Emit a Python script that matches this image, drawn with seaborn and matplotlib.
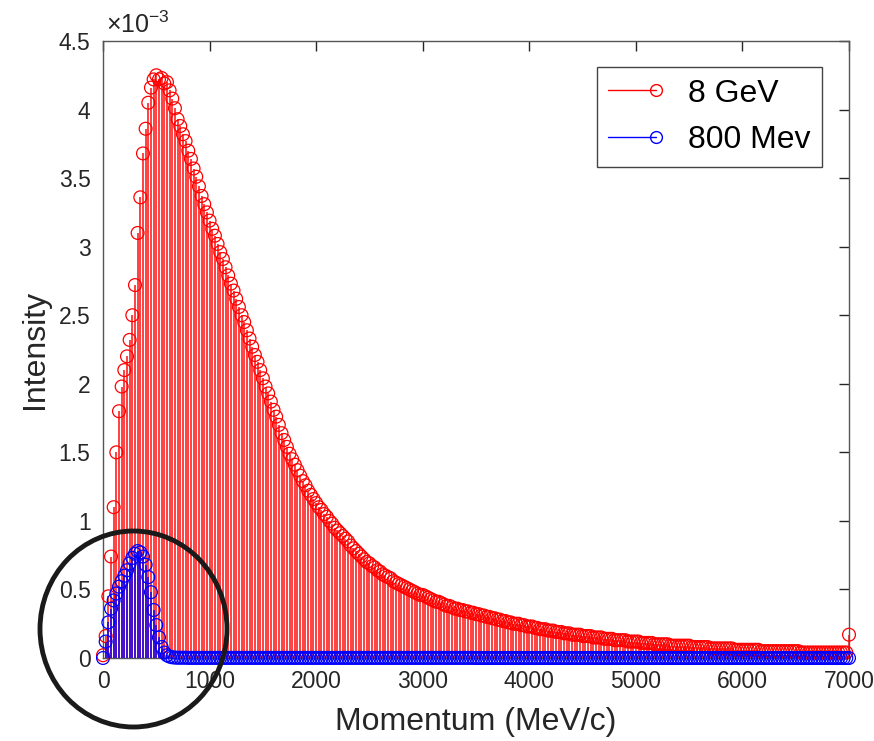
import numpy as np
import pandas as pd
import matplotlib
matplotlib.use("Agg")
import matplotlib.pyplot as plt
import seaborn as sns
from matplotlib.ticker import MultipleLocator, FuncFormatter
from matplotlib.patches import Ellipse
from matplotlib.lines import Line2D
from matplotlib.legend_handler import HandlerBase

# ---------------- data (intensity in units of 1e-3) ----------------
momentum = np.arange(0, 7001, 25)  # MeV/c

intensity_8gev_e3 = [
    0.02, 0.16, 0.45, 0.74, 1.10, 1.50, 1.80, 1.98, 2.10, 2.20, 2.32, 2.50, 2.72, 3.10, 3.36, 3.68, 3.86, 4.05, 4.16, 4.22,
    4.25, 4.22, 4.23, 4.19, 4.20, 4.14, 4.08, 4.01, 3.93, 3.88, 3.82, 3.77, 3.70, 3.64, 3.57, 3.51, 3.44, 3.37, 3.31, 3.25,
    3.19, 3.13, 3.08, 3.02, 2.96, 2.91, 2.85, 2.79, 2.73, 2.68, 2.62, 2.56, 2.50, 2.45, 2.39, 2.33, 2.27, 2.21, 2.16, 2.10,
    2.04, 1.98, 1.93, 1.87, 1.81, 1.76, 1.70, 1.64, 1.59, 1.54, 1.49, 1.45, 1.41, 1.37, 1.33, 1.29, 1.26, 1.22, 1.19, 1.16,
    1.13, 1.10, 1.08, 1.05, 1.03, 1.00, 0.98, 0.95, 0.93, 0.91, 0.89, 0.87, 0.85, 0.82, 0.80, 0.78, 0.76, 0.74, 0.72, 0.70,
    0.69, 0.67, 0.66, 0.64, 0.63, 0.61, 0.60, 0.59, 0.58, 0.56, 0.55, 0.54, 0.53, 0.52, 0.51, 0.50, 0.49, 0.48, 0.47, 0.46,
    0.46, 0.45, 0.44, 0.43, 0.42, 0.41, 0.41, 0.40, 0.39, 0.38, 0.38, 0.37, 0.36, 0.36, 0.35, 0.35, 0.34, 0.34, 0.33, 0.33,
    0.32, 0.32, 0.31, 0.31, 0.30, 0.30, 0.29, 0.29, 0.28, 0.28, 0.27, 0.27, 0.26, 0.26, 0.25, 0.25, 0.25, 0.24, 0.24, 0.23,
    0.23, 0.23, 0.22, 0.22, 0.21, 0.21, 0.21, 0.20, 0.20, 0.20, 0.19, 0.19, 0.19, 0.18, 0.18, 0.18, 0.17, 0.17, 0.17, 0.17,
    0.16, 0.16, 0.16, 0.16, 0.15, 0.15, 0.15, 0.15, 0.14, 0.14, 0.14, 0.14, 0.13, 0.13, 0.13, 0.13, 0.13, 0.12, 0.12, 0.12,
    0.12, 0.12, 0.11, 0.11, 0.11, 0.11, 0.11, 0.10, 0.10, 0.10, 0.10, 0.10, 0.10, 0.09, 0.09, 0.09, 0.09, 0.09, 0.09, 0.09,
    0.09, 0.08, 0.08, 0.08, 0.08, 0.08, 0.08, 0.08, 0.07, 0.07, 0.07, 0.07, 0.07, 0.07, 0.07, 0.07, 0.07, 0.06, 0.06, 0.06,
    0.06, 0.06, 0.06, 0.06, 0.06, 0.06, 0.06, 0.05, 0.05, 0.05, 0.05, 0.05, 0.05, 0.05, 0.05, 0.05, 0.05, 0.05, 0.05, 0.05,
    0.05, 0.05, 0.04, 0.04, 0.04, 0.04, 0.04, 0.04, 0.04, 0.04, 0.04, 0.04, 0.04, 0.04, 0.04, 0.04, 0.04, 0.04, 0.04, 0.04,
    0.17,
]

intensity_800mev_e3 = [
    0.00, 0.12, 0.26, 0.36, 0.42, 0.47, 0.52, 0.56, 0.60, 0.64, 0.69, 0.73, 0.76, 0.78, 0.77, 0.74, 0.68, 0.59, 0.48, 0.35,
    0.24, 0.15, 0.08, 0.04, 0.02, 0.01, 0.005, 0.003, 0.002, 0.002, 0.002, 0.002, 0.001, 0.001, 0.001, 0.001, 0.001, 0.001, 0.001, 0.001,
    0.001, 0.001, 0.001, 0.001, 0.001, 0.001, 0.001, 0.001, 0.001, 0.001, 0.001, 0.001, 0.001, 0.001, 0.001, 0.001, 0.001, 0.001, 0.001, 0.001,
    0.001, 0.001, 0.001, 0.001, 0.001, 0.001, 0.001, 0.001, 0.001, 0.001, 0.001, 0.001, 0.001, 0.001, 0.001, 0.001, 0.001, 0.001, 0.001, 0.001,
    0.001, 0.001, 0.001, 0.001, 0.001, 0.001, 0.001, 0.001, 0.001, 0.001, 0.001, 0.001, 0.001, 0.001, 0.001, 0.001, 0.001, 0.001, 0.001, 0.001,
    0.001, 0.001, 0.001, 0.001, 0.001, 0.001, 0.001, 0.001, 0.001, 0.001, 0.001, 0.001, 0.001, 0.001, 0.001, 0.001, 0.001, 0.001, 0.001, 0.001,
    0.001, 0.001, 0.001, 0.001, 0.001, 0.001, 0.001, 0.001, 0.001, 0.001, 0.001, 0.001, 0.001, 0.001, 0.001, 0.001, 0.001, 0.001, 0.001, 0.001,
    0.000, 0.000, 0.000, 0.000, 0.000, 0.000, 0.000, 0.000, 0.000, 0.000, 0.000, 0.000, 0.000, 0.000, 0.000, 0.000, 0.000, 0.000, 0.000, 0.000,
    0.000, 0.000, 0.000, 0.000, 0.000, 0.000, 0.000, 0.000, 0.000, 0.000, 0.000, 0.000, 0.000, 0.000, 0.000, 0.000, 0.000, 0.000, 0.000, 0.000,
    0.000, 0.000, 0.000, 0.000, 0.000, 0.000, 0.000, 0.000, 0.000, 0.000, 0.000, 0.000, 0.000, 0.000, 0.000, 0.000, 0.000, 0.000, 0.000, 0.000,
    0.000, 0.000, 0.000, 0.000, 0.000, 0.000, 0.000, 0.000, 0.000, 0.000, 0.000, 0.000, 0.000, 0.000, 0.000, 0.000, 0.000, 0.000, 0.000, 0.000,
    0.000, 0.000, 0.000, 0.000, 0.000, 0.000, 0.000, 0.000, 0.000, 0.000, 0.000, 0.000, 0.000, 0.000, 0.000, 0.000, 0.000, 0.000, 0.000, 0.000,
    0.000, 0.000, 0.000, 0.000, 0.000, 0.000, 0.000, 0.000, 0.000, 0.000, 0.000, 0.000, 0.000, 0.000, 0.000, 0.000, 0.000, 0.000, 0.000, 0.000,
    0.000, 0.000, 0.000, 0.000, 0.000, 0.000, 0.000, 0.000, 0.000, 0.000, 0.000, 0.000, 0.000, 0.000, 0.000, 0.000, 0.000, 0.000, 0.000, 0.000,
    0.000,
]

series_labels = ["8 GeV", "800 Mev"]
series_colors = ["#ff0000", "#0000ff"]
x_ticks = [0, 1000, 2000, 3000, 4000, 5000, 6000, 7000]

# ---------------- style ----------------
sns.set_theme(style="white")
plt.rcParams["font.family"] = ["Liberation Sans", "DejaVu Sans"]
plt.rcParams["mathtext.fontset"] = "custom"
plt.rcParams["mathtext.rm"] = "Liberation Sans"
plt.rcParams["mathtext.it"] = "Liberation Sans:italic"
plt.rcParams["mathtext.bf"] = "Liberation Sans:bold"

TXT = "#262626"

df = pd.DataFrame({
    "momentum": np.concatenate([momentum, momentum]),
    "intensity": np.concatenate([np.array(intensity_8gev_e3), np.array(intensity_800mev_e3)]) * 1e-3,
    "series": [series_labels[0]] * len(momentum) + [series_labels[1]] * len(momentum),
})

fig = plt.figure(figsize=(8.74, 7.41), dpi=100)
ax = fig.add_axes([103 / 874, 1 - 658 / 741, 746 / 874, 617 / 741])

z = 2
for lab, col in zip(series_labels, series_colors):
    sub = df[df["series"] == lab]
    ax.vlines(sub["momentum"], 0, sub["intensity"], colors=col, linewidth=1.3,
              alpha=0.8, zorder=z)
    sns.scatterplot(data=sub, x="momentum", y="intensity", ax=ax, marker="o",
                    facecolor="none", edgecolor=col, s=85, linewidth=0.9,
                    zorder=z + 1, clip_on=False, legend=False)
    z += 2

ax.set_xlim(0, 7000)
ax.set_ylim(0, 4.5e-3)
ax.set_xticks(x_ticks)
ax.yaxis.set_major_locator(MultipleLocator(0.5e-3))
ax.yaxis.set_major_formatter(FuncFormatter(lambda v, _: f"{round(v * 1e3, 3):g}"))

ax.tick_params(direction="in", length=7, width=1, top=True, right=True,
               color=TXT, labelcolor=TXT, labelsize=16.5, pad=9)
for sp in ax.spines.values():
    sp.set_color("#555555")
    sp.set_linewidth(1.0)

ax.set_xlabel("Momentum (MeV/c)", fontsize=23, color=TXT, labelpad=10)
ax.set_ylabel("Intensity", fontsize=23, color=TXT, labelpad=6)

ax.text(0.004, 1.013, r"$\times10^{-3}$", transform=ax.transAxes, fontsize=18,
        color=TXT, ha="left", va="baseline")


# legend with stem-like handles (line ending in a circle)
class StemHandler(HandlerBase):
    def create_artists(self, legend, orig_handle, xdescent, ydescent, width, height, fontsize, trans):
        col = orig_handle.get_color()
        y = height / 2 - ydescent
        ln = Line2D([-xdescent, width - xdescent], [y, y], color=col, lw=1.0)
        mk = Line2D([width - xdescent], [y], marker="o", markerfacecolor="none",
                    markeredgecolor=col, markersize=8.5, markeredgewidth=1.0, linestyle="none")
        ln.set_transform(trans)
        mk.set_transform(trans)
        return [ln, mk]


handles = [Line2D([], [], color=c) for c in series_colors]
leg = ax.legend(handles, series_labels, handler_map={Line2D: StemHandler()},
                loc="upper right", bbox_to_anchor=(822 / 874, 1 - 67 / 741),
                bbox_transform=fig.transFigure, borderaxespad=0, fontsize=23,
                frameon=True, fancybox=False, framealpha=1, edgecolor="#444444",
                handlelength=1.5, handletextpad=1.0, borderpad=0.36, labelspacing=0.52)
leg.get_frame().set_linewidth(1.0)
for t in leg.get_texts():
    t.set_color("black")

# black hand-drawn style circle annotation (figure pixel geometry)
circ = Ellipse((133.5 / 874, 1 - 629 / 741), 187 / 874, 196 / 741,
               transform=fig.transFigure, fill=False, edgecolor="#1a1a1a",
               linewidth=3.5, zorder=20, clip_on=False)
fig.add_artist(circ)

fig.savefig("out.png", dpi=100, facecolor="white")
